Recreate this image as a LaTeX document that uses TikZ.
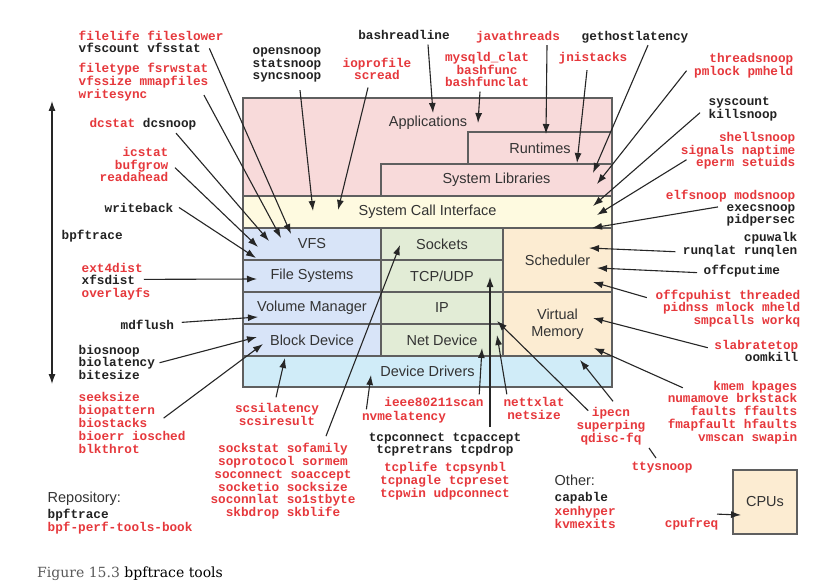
\documentclass[tikz,border=0pt]{standalone}
\usepackage{fontspec}
\setmainfont{Liberation Sans}
\setmonofont{Liberation Mono}
\newfontfamily\captionserif{DejaVu Serif}
\usetikzlibrary{arrows.meta}

\definecolor{appfill}{RGB}{248,218,218}
\definecolor{scifill}{RGB}{254,250,224}
\definecolor{fsfill}{RGB}{216,228,248}
\definecolor{netfill}{RGB}{226,236,214}
\definecolor{cpufill}{RGB}{252,236,210}
\definecolor{ddfill}{RGB}{208,236,248}
\definecolor{boxline}{RGB}{95,95,95}
\definecolor{toolred}{RGB}{230,56,60}
\definecolor{toolblack}{RGB}{34,34,34}
\definecolor{capgray}{RGB}{90,90,90}

\newcommand{\layerfont}{\fontsize{14.5}{17}\selectfont}
\newcommand{\toolfont}{\ttfamily\bfseries\fontsize{12.7}{12.8}\selectfont}

\tikzset{
  layer/.style={draw=boxline, line width=1.2pt, anchor=north west, inner sep=0pt,
    outer sep=0pt, minimum height=32, font=\layerfont, text=black!80, align=center},
  tool/.style={font=\toolfont, inner xsep=1.5pt, inner ysep=0.3pt, text=toolblack},
  redtool/.style={tool, text=toolred},
  sanslabel/.style={font=\layerfont, text=black!80, inner sep=1.5pt},
  toolarrow/.style={-{Latex[length=10pt,width=7pt]}, line width=1.1pt, draw=black!85},
}

\begin{document}
\begin{tikzpicture}[x=1pt,y=-1pt]
\path[use as bounding box, fill=white] (0,0) rectangle (826,588);

% the stack
\node[layer, fill=appfill, minimum width=369, minimum height=98] (app) at (243,98) {};
\node[sanslabel] (apptext) at (428,123) {Applications};
\node[layer, fill=appfill, minimum width=144] (rt) at (468,132) {Runtimes};
\node[layer, fill=appfill, minimum width=231] (syslib) at (381,164) {System Libraries};
\node[layer, fill=scifill, minimum width=369] (sci) at (243,196) {System Call Interface};
\node[layer, fill=fsfill, minimum width=138] (vfs) at (243,228) {VFS};
\node[layer, fill=fsfill, minimum width=138] (fs) at (243,260) {File Systems};
\node[layer, fill=fsfill, minimum width=138] (vm) at (243,292) {Volume Manager};
\node[layer, fill=fsfill, minimum width=138] (bd) at (243,324) {Block Device};
\node[layer, fill=netfill, minimum width=122] (sock) at (381,228) {Sockets};
\node[layer, fill=netfill, minimum width=122] (tcp) at (381,260) {TCP/UDP};
\node[layer, fill=netfill, minimum width=122] (ip) at (381,292) {IP};
\node[layer, fill=netfill, minimum width=122] (netdev) at (381,324) {Net Device};
\node[layer, fill=cpufill, minimum width=109, minimum height=64] (sched) at (503,228) {Scheduler};
\node[layer, fill=cpufill, minimum width=109, minimum height=64] (virtmem) at (503,292) {Virtual\\Memory};
\node[layer, fill=ddfill, minimum width=369, minimum height=31] (dd) at (243,356) {Device Drivers};
\node[layer, fill=cpufill, minimum width=64, minimum height=64] (cpus) at (733,470) {CPUs};

% left side
\node[redtool, anchor=base west] (filelife) at (77,41) {filelife fileslower};
\node[tool, anchor=base west] (vfsstat) at (77,53) {vfscount vfsstat};
\node[redtool, anchor=base west] (filetype) at (77,73) {filetype fsrwstat};
\node[redtool, anchor=base west] (mmapfiles) at (77,86) {vfssize mmapfiles};
\node[redtool, anchor=base west] (writesync) at (77,99) {writesync};
\node[tool, anchor=base east] (dcsnoop) at (198,128) {\textcolor{toolred}{dcstat} dcsnoop};
\node[redtool, anchor=base east] (icstat) at (170,157) {icstat};
\node[redtool, anchor=base east] (bufgrow) at (170,170) {bufgrow};
\node[redtool, anchor=base east] (readahead) at (170,182) {readahead};
\node[tool, anchor=base east] (writeback) at (175,212) {writeback};
\node[tool, anchor=base west] (bpftrace) at (60,239) {bpftrace};
\node[redtool, anchor=base west] (ext4dist) at (80,272) {ext4dist};
\node[tool, anchor=base west] (xfsdist) at (80,284) {xfsdist};
\node[redtool, anchor=base west] (overlayfs) at (80,297) {overlayfs};
\node[tool, anchor=base west] (mdflush) at (119,329) {mdflush};
\node[tool, anchor=base west] (biosnoop) at (77,354) {biosnoop};
\node[tool, anchor=base west] (biolatency) at (77,366) {biolatency};
\node[tool, anchor=base west] (bitesize) at (77,379) {bitesize};
\node[redtool, anchor=base west] (seeksize) at (77,401) {seeksize};
\node[redtool, anchor=base west] (biopattern) at (77,414) {biopattern};
\node[redtool, anchor=base west] (biostacks) at (77,427) {biostacks};
\node[redtool, anchor=base west] (bioerr) at (77,440) {bioerr iosched};
\node[redtool, anchor=base west] (blkthrot) at (77,453) {blkthrot};

% top
\node[tool, anchor=base west] (opensnoop) at (251,55) {opensnoop};
\node[tool, anchor=base west] (statsnoop) at (251,67.5) {statsnoop};
\node[tool, anchor=base west] (syncsnoop) at (251,80) {syncsnoop};
\node[redtool, anchor=base] (ioprofile) at (377,68) {ioprofile};
\node[redtool, anchor=base] (scread) at (377,80) {scread};
\node[tool, anchor=base] (bashreadline) at (404,40) {bashreadline};
\node[redtool, anchor=base] (mysqld) at (487,62) {mysqld\_clat};
\node[redtool, anchor=base] (bashfunc) at (487,74.5) {bashfunc};
\node[redtool, anchor=base] (bashfunclat) at (487,87) {bashfunclat};
\node[redtool, anchor=base] (javathreads) at (518,41) {javathreads};
\node[tool, anchor=base] (gethost) at (635,41) {gethostlatency};
\node[redtool, anchor=base] (jnistacks) at (593,62) {jnistacks};

% right side
\node[redtool, anchor=base east] (threadsnoop) at (795,63) {threadsnoop};
\node[redtool, anchor=base east] (pmlock) at (795,76) {pmlock pmheld};
\node[tool, anchor=base west] (syscount) at (707,106) {syscount};
\node[tool, anchor=base west] (killsnoop) at (707,119) {killsnoop};
\node[redtool, anchor=base east] (shellsnoop) at (797,142) {shellsnoop};
\node[redtool, anchor=base east] (signals) at (797,154.5) {signals naptime};
\node[redtool, anchor=base east] (eperm) at (797,167) {eperm setuids};
\node[redtool, anchor=base east] (elfsnoop) at (797,199) {elfsnoop modsnoop};
\node[tool, anchor=base east] (execsnoop) at (797,211) {execsnoop};
\node[tool, anchor=base east] (pidpersec) at (797,223.5) {pidpersec};
\node[tool, anchor=base east] (cpuwalk) at (799,241) {cpuwalk};
\node[tool, anchor=base east] (runqlat) at (799,254) {runqlat runqlen};
\node[tool, anchor=base west] (offcputime) at (702,274) {offcputime};
\node[redtool, anchor=base east] (offcpuhist) at (802,299) {offcpuhist threaded};
\node[redtool, anchor=base east] (pidnss) at (802,311.5) {pidnss mlock mheld};
\node[redtool, anchor=base east] (smpcalls) at (802,324) {smpcalls workq};
\node[redtool, anchor=base east] (slabratetop) at (800,349) {slabratetop};
\node[tool, anchor=base east] (oomkill) at (800,361.5) {oomkill};
\node[redtool, anchor=base east] (kmem) at (799,390) {kmem kpages};
\node[redtool, anchor=base east] (numamove) at (799,402.5) {numamove brkstack};
\node[redtool, anchor=base east] (faults) at (799,415) {faults ffaults};
\node[redtool, anchor=base east] (fmapfault) at (799,428) {fmapfault hfaults};
\node[redtool, anchor=base east] (vmscan) at (799,441) {vmscan swapin};

% bottom
\node[redtool, anchor=base] (scsilatency) at (277,412) {scsilatency};
\node[redtool, anchor=base] (scsiresult) at (277,425) {scsiresult};
\node[redtool, anchor=base] (sockstat) at (283,452) {sockstat sofamily};
\node[redtool, anchor=base] (soprotocol) at (283,465) {soprotocol sormem};
\node[redtool, anchor=base] (soconnect) at (283,478) {soconnect soaccept};
\node[redtool, anchor=base] (socketio) at (283,491) {socketio socksize};
\node[redtool, anchor=base] (soconnlat) at (283,503.5) {soconnlat so1stbyte};
\node[redtool, anchor=base] (skbdrop) at (283,516) {skbdrop skblife};
\node[redtool, anchor=base] (ieee) at (434,406) {ieee80211scan};
\node[redtool, anchor=base] (nvmelatency) at (404,420) {nvmelatency};
\node[redtool, anchor=base] (nettxlat) at (534,406) {nettxlat};
\node[redtool, anchor=base] (netsize) at (534,419) {netsize};
\node[tool, anchor=base] (tcpconnect) at (445,441) {tcpconnect tcpaccept};
\node[tool, anchor=base] (tcpretrans) at (445,453.5) {tcpretrans tcpdrop};
\node[redtool, anchor=base] (tcplife) at (445,471) {tcplife tcpsynbl};
\node[redtool, anchor=base] (tcpnagle) at (445,484) {tcpnagle tcpreset};
\node[redtool, anchor=base] (tcpwin) at (445,497) {tcpwin udpconnect};
\node[redtool, anchor=base] (ipecn) at (611,416) {ipecn};
\node[redtool, anchor=base] (superping) at (611,429) {superping};
\node[redtool, anchor=base] (qdisc) at (611,442) {qdisc-fq};
\node[redtool, anchor=base] (ttysnoop) at (662,470) {ttysnoop};
\node[sanslabel, anchor=base west] (other) at (553,485) {Other:};
\node[tool, anchor=base west] (capable) at (553,501) {capable};
\node[redtool, anchor=base west] (xenhyper) at (553,515) {xenhyper};
\node[redtool, anchor=base west] (kvmexits) at (553,528) {kvmexits};
\node[redtool, anchor=base east] (cpufreq) at (720,527) {cpufreq};
\node[sanslabel, anchor=base west] (repo) at (46,502) {Repository:};
\node[tool, anchor=base west] (repobpf) at (46,518) {bpftrace};
\node[redtool, anchor=base west] (repobook) at (46,531) {bpf-perf-tools-book};
\node[anchor=base west, inner sep=0pt, font=\captionserif\fontsize{14}{16}\selectfont] (caption) at (37,577)
  {\textcolor{capgray}{Figure 15.3} bpftrace tools};

% arrow tips
\coordinate (bpf-top) at (52,101);
\coordinate (bpf-bot) at (52,384);
\coordinate (vfs-a) at (291,234);
\coordinate (vfs-b) at (281,238);
\coordinate (vfs-c) at (269,241);
\coordinate (vfs-d) at (258,247);
\coordinate (vfs-e) at (256,258);
\coordinate (fs-a) at (257,279);
\coordinate (vm-a) at (258,317);
\coordinate (bd-a) at (257,337);
\coordinate (bd-b) at (263,344);
\coordinate (sci-a) at (313,211);
\coordinate (sci-b) at (338,210);
\coordinate (app-a) at (433,113);
\coordinate (app-b) at (478,123);
\coordinate (rt-a) at (546,134);
\coordinate (rt-b) at (577,163);
\coordinate (lib-a) at (593,173);
\coordinate (lib-b) at (597,184);
\coordinate (sci-c) at (593,206);
\coordinate (sci-d) at (597,215);
\coordinate (sci-e) at (592,228);
\coordinate (sched-a) at (589,248);
\coordinate (sched-b) at (597,268);
\coordinate (sched-c) at (593,282);
\coordinate (mem-a) at (593,318);
\coordinate (mem-b) at (594,348);
\coordinate (dd-a) at (580,360);
\coordinate (ip-a) at (497,321);
\coordinate (nd-a) at (497,335);
\coordinate (nd-b) at (482,348);
\coordinate (tcp-a) at (490,277);
\coordinate (dd-b) at (371,375);
\coordinate (dd-c) at (285,358);
\coordinate (sock-a) at (400,245);
\coordinate (tty-end) at (649,448);
\coordinate (cpus-a) at (741,515);

% arrows
\draw[toolarrow, {Latex[length=10pt,width=7pt]}-{Latex[length=10pt,width=7pt]}] (bpf-top) -- (bpf-bot);
\draw[toolarrow] ([shift={(7,0)}]vfsstat.east) -- (vfs-a);
\draw[toolarrow] ([shift={(-6,6)}]mmapfiles.south east) -- (vfs-b);
\draw[toolarrow] ([shift={(-22,2)}]dcsnoop.south east) -- (vfs-c);
\draw[toolarrow] ([shift={(5,1)}]bufgrow.east) -- (vfs-d);
\draw[toolarrow] ([shift={(4,0)}]writeback.east) -- (vfs-e);
\draw[toolarrow] ([shift={(7,0)}]xfsdist.east) -- (fs-a);
\draw[toolarrow] ([shift={(6,-2)}]mdflush.east) -- (vm-a);
\draw[toolarrow] ([shift={(3,0)}]biolatency.east) -- (bd-a);
\draw[toolarrow] ([shift={(7,1)}]biopattern.south east) -- (bd-b);
\draw[toolarrow] ([shift={(13,7)}]syncsnoop.south) -- (sci-a);
\draw[toolarrow] ([shift={(-9,7)}]scread.south) -- (sci-b);
\draw[toolarrow] ([shift={(24,4)}]bashreadline.south) -- (app-a);
\draw[toolarrow] ([shift={(-7,4)}]bashfunclat.south) -- (app-b);
\draw[toolarrow] ([shift={(29,1)}]javathreads.south) -- (rt-a);
\draw[toolarrow] ([shift={(-6,5)}]jnistacks.south) -- (rt-b);
\draw[toolarrow] ([shift={(13,1)}]gethost.south) -- (lib-a);
\draw[toolarrow] ([shift={(-6,-2)}]pmlock.west) -- (lib-b);
\draw[toolarrow] ([shift={(-7,-3)}]killsnoop.west) -- (sci-c);
\draw[toolarrow] ([shift={(-8,-4)}]eperm.west) -- (sci-d);
\draw[toolarrow] ([shift={(-7,-2)}]execsnoop.west) -- (sci-e);
\draw[toolarrow] ([shift={(-6,1)}]runqlat.west) -- (sched-a);
\draw[toolarrow] ([shift={(-5,2)}]offcputime.west) -- (sched-b);
\draw[toolarrow] ([shift={(-7,2)}]offcpuhist.west) -- (sched-c);
\draw[toolarrow] ([shift={(-5,2)}]slabratetop.west) -- (mem-a);
\draw[toolarrow] ([shift={(-29,1)}]kmem.west) -- (mem-b);
\draw[toolarrow] ([shift={(2,-5)}]ipecn.north) -- (dd-a);
\draw[toolarrow] ([shift={(-2,-2)}]ipecn.west) -- (ip-a);
\draw[toolarrow] ([shift={(5,-2)}]nettxlat.north west) -- (nd-a);
\draw[toolarrow] ([shift={(-6,-2)}]ieee.north east) -- (nd-b);
\draw[toolarrow] ([shift={(45,-5)}]tcpconnect.north) -- (tcp-a);
\draw[toolarrow] ([shift={(6,-1)}]nvmelatency.north west) -- (dd-b);
\draw[toolarrow] ([shift={(-1,-5)}]scsilatency.north) -- (dd-c);
\draw[toolarrow] ([shift={(43,-6)}]sockstat.north) -- (sock-a);
\draw[line width=1.1pt, draw=black!85] ([shift={(-6,-3)}]ttysnoop.north) -- (tty-end);
\draw[toolarrow] ([shift={(-3,-3)}]cpufreq.north east) -- (cpus-a);
\end{tikzpicture}
\end{document}
